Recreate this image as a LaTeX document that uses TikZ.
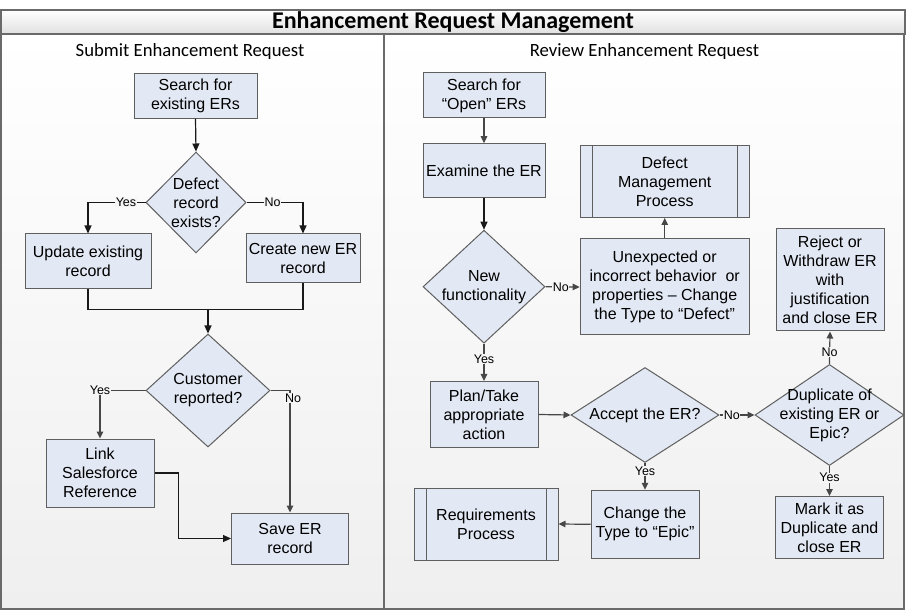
\documentclass[tikz,border=0pt]{standalone}
\usepackage{fontspec}
\setmainfont{Liberation Sans}
\newfontfamily\calib{Carlito}
\usetikzlibrary{shapes.geometric,arrows.meta}
\definecolor{boxfill}{HTML}{E3E9F4}
\definecolor{boxline}{HTML}{5F5F5F}
\definecolor{bgbot}{HTML}{EFEFEF}
\definecolor{arrgray}{HTML}{474747}
\definecolor{framec}{HTML}{6A6A6A}
\begin{document}
\begin{tikzpicture}[x=1pt,y=-1pt,
  box/.style={draw=boxline,fill=boxfill,line width=1pt,inner sep=0pt,align=center,
    font=\fontsize{16}{19}\selectfont},
  dia/.style={draw=boxline,fill=boxfill,line width=1pt,diamond,inner sep=0pt},
  dtext/.style={align=center,font=\fontsize{16}{19}\selectfont},
  proc/.style={box,path picture={
    \draw[boxline,line width=1pt] ([xshift=12pt]path picture bounding box.north west) -- ([xshift=12pt]path picture bounding box.south west);
    \draw[boxline,line width=1pt] ([xshift=-12pt]path picture bounding box.north east) -- ([xshift=-12pt]path picture bounding box.south east);}},
  arrb/.style={draw=black!90,line width=1.2pt,-{Triangle[length=8pt,width=7pt]}},
  arr/.style={draw=arrgray,line width=1.2pt,-{Triangle[length=7pt,width=6.5pt]}},
  lnb/.style={draw=black!90,line width=1.2pt},
  lbl/.style={font=\fontsize{12.5}{12.5}\selectfont,fill=white!96!black,inner sep=0.6pt,text=black}
]
\useasboundingbox (0,0) rectangle (908,612);
% panels
\shade[top color=white,bottom color=bgbot] (1,34) rectangle (384,609);
\shade[top color=white,bottom color=bgbot] (384,34) rectangle (904,609);
\draw[framec,line width=1.2pt] (1,34) rectangle (384,609);
\draw[framec,line width=1.2pt] (384,34) rectangle (904,609);
\shade[top color=white,bottom color=white!88!black,draw=framec,line width=1.2pt] (1,10) rectangle (905,34);
\node[font=\calib\bfseries\fontsize{24}{24}\selectfont] (title) at (453,22) {Enhancement Request Management};
\node[font=\calib\fontsize{18.7}{19}\selectfont] (subl) at (190,52) {Submit Enhancement Request};
\node[font=\calib\fontsize{18.7}{19}\selectfont] (subr) at (644.5,52) {Review Enhancement Request};

% left panel
\node[box,minimum width=123pt,minimum height=45pt] (s1) at (195.5,95.7) {Search for\\existing ERs};
\node[dia,minimum width=100pt,minimum height=101pt,label={[dtext]center:Defect\\record\\exists?}] (d1) at (196,202.5) {};
\node[box,minimum width=126pt,minimum height=55pt] (upd) at (88,261.5) {Update existing\\record};
\node[box,minimum width=114pt,minimum height=49pt] (cre) at (303,258.5) {Create new ER\\record};
\coordinate (m) at (208,309.5);
\node[dia,minimum width=124pt,minimum height=113pt,label={[dtext]center:Customer\\reported?}] (cust) at (208,390.5) {};
\node[box,minimum width=108pt,minimum height=68pt] (link) at (100,473) {Link\\Salesforce\\Reference};
\node[box,minimum width=117pt,minimum height=51pt] (save) at (290,538.5) {Save ER\\record};

\draw[arrb] (s1.south) -- (d1.north);
\draw[arrb] (d1.west) -| node[lbl,pos=0.17]{Yes} (upd.north);
\draw[arrb] (d1.east) -| node[lbl,pos=0.23]{No} (cre.north);
\draw[lnb] (upd.south) |- (m);
\draw[lnb] (cre.south) |- (m);
\draw[arrb] (m) -- (cust.north);
\draw[arr] (cust.west) -| node[lbl,pos=0.5]{Yes} (link.north);
\draw[arr] (cust.east) -| node[lbl,pos=0.53,xshift=3pt]{No} (save.north);
\draw[arrb] (link.east) -- ++(23.7,0) |- (save.west);

% right panel
\node[box,minimum width=122pt,minimum height=45pt] (s2) at (484,95.5) {Search for\\``Open'' ERs};
\node[box,minimum width=122pt,minimum height=54pt] (exam) at (484,170.7) {Examine the ER};
\node[dia,minimum width=122pt,minimum height=113pt,label={[dtext]center:New\\functionality}] (nf) at (484,286.7) {};
\node[box,minimum width=169pt,minimum height=96pt] (unexp) at (664.7,287) {Unexpected or\\incorrect behavior\ \ or\\properties -- Change\\the Type to ``Defect''};
\node[proc,minimum width=169pt,minimum height=72pt] (defm) at (664.7,181.5) {Defect\\Management\\Process};
\node[box,minimum width=108pt,minimum height=102pt] (rej) at (830,280) {Reject or\\Withdraw ER\\with\\justification\\and close ER};
\node[box,minimum width=108pt,minimum height=66pt] (plan) at (484,414.5) {Plan/Take\\appropriate\\action};
\node[dia,minimum width=148pt,minimum height=95pt,label={[dtext]center:Accept the ER?}] (acc) at (645,415) {};
\node[dia,minimum width=149pt,minimum height=101pt,label={[dtext]center:Duplicate of\\existing ER or\\Epic?}] (dup) at (829.5,415) {};
\node[box,minimum width=108pt,minimum height=62pt] (mark) at (829.5,527.5) {Mark it as\\Duplicate and\\close ER};
\node[box,minimum width=108pt,minimum height=68pt] (chg) at (645,524.3) {Change the\\Type to ``Epic''};
\node[proc,minimum width=144pt,minimum height=72pt] (req) at (486,524) {Requirements\\Process};

\draw[arr] (s2.south) -- (exam.north);
\draw[arrb] (exam.south) -- (nf.north);
\draw[arr] (nf.east) -- node[lbl,pos=0.45]{No} (unexp.west);
\draw[arr] (unexp.north) -- (defm.south);
\draw[arr] (nf.south) -- node[lbl,pos=0.41]{Yes} (plan.north);
\draw[arr] (plan.east) -- (acc.west);
\draw[arr] (acc.east) -- node[lbl,pos=0.35]{No} (dup.west);
\draw[arr] (dup.north) -- node[lbl,pos=0.36]{No} (rej.south);
\draw[arr] (dup.south) -- node[lbl,pos=0.39]{Yes} (mark.north);
\draw[arr] (acc.south) -- node[lbl,pos=0.31]{Yes} (chg.north);
\draw[arr] (chg.west) -- (req.east);
\end{tikzpicture}
\end{document}
